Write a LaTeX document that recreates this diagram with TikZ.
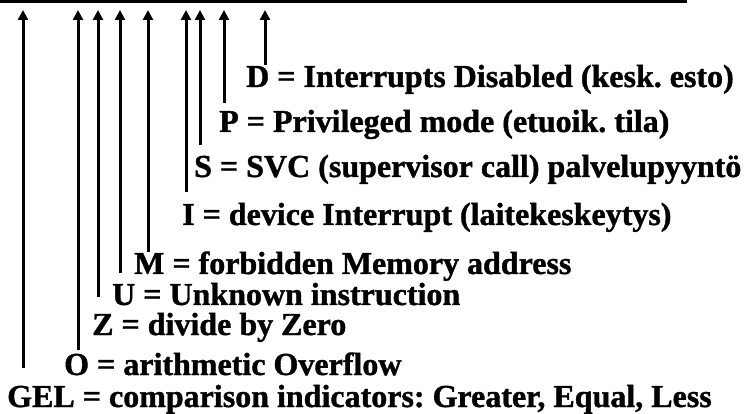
\documentclass[tikz,border=0pt]{standalone}
\usepackage{fontspec}
\setmainfont{Liberation Serif}[BoldFeatures={FakeBold=1.2}]
\usetikzlibrary{arrows.meta}
\frenchspacing
\begin{document}
\begin{tikzpicture}[x=1pt,y=1pt,
  lbl/.style={anchor=base west,inner sep=0pt,font=\fontsize{32}{38}\selectfont\bfseries},
  bar/.style={line width=3pt,-{Triangle[length=10pt,width=10pt]}},
  rule/.style={line width=3pt}]
\useasboundingbox (0,0) rectangle (745,-414);
% top line
\coordinate (L1) at (0,-2);
\coordinate (L2) at (687,-2);
\draw[rule] (L1) -- (L2);
% labels
\node[lbl] (d)   at (246,-87)  {D = Interrupts Disabled (kesk. esto)};
\node[lbl] (p)   at (219,-132) {P = Privileged mode (etuoik. tila)};
\node[lbl] (s)   at (194,-177) {S = SVC (supervisor call) palvelupyyntö};
\node[lbl] (i)   at (182,-225) {I = device Interrupt (laitekeskeytys)};
\node[lbl] (m)   at (134,-274) {M = forbidden Memory address};
\node[lbl] (u)   at (112,-305) {U = Unknown instruction};
\node[lbl] (z)   at (92,-335)  {Z = divide by Zero};
\node[lbl] (o)   at (64,-375)  {O = arithmetic Overflow};
\node[lbl] (gel) at (7,-407)   {GEL = comparison indicators: Greater, Equal, Less};
% bar ends
\foreach \n/\x/\b in {gel/23/368, o/78/350, z/98/297, u/120/273, m/148/252, i/186/192, s/200/145, p/224/103, d/265/65}{
  \coordinate (\n B) at (\x,-\b);
  \coordinate (\n T) at (\x,-10);
}
\foreach \n in {gel,o,z,u,m,i,s,p,d}{
  \draw[bar] (\n B) -- (\n T);
}
\end{tikzpicture}
\end{document}
